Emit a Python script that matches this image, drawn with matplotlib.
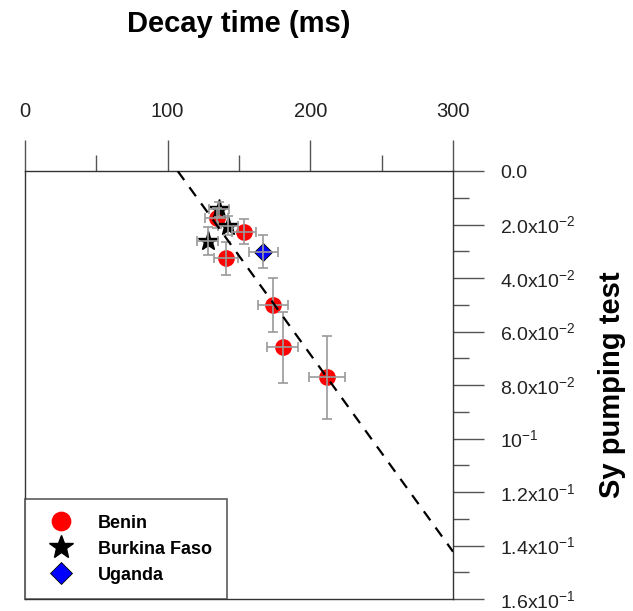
import matplotlib.pyplot as plt
from matplotlib.ticker import MultipleLocator, FixedLocator

plt.rcParams['font.family'] = ['Liberation Sans', 'DejaVu Sans']
plt.rcParams['mathtext.default'] = 'regular'

# Data (decay time in ms, Sy from pumping test)
benin_t = [134.3, 153.5, 140.7, 173.6, 180.6, 211.5]
benin_sy = [0.0177, 0.0227, 0.0326, 0.0501, 0.0659, 0.0771]
benin_terr = [7.8, 8.2, 8.4, 10.6, 11.0, 12.8]
benin_syerr = [0.0037, 0.0047, 0.0062, 0.0100, 0.0133, 0.0156]

burkina_t = [136.2, 142.5, 128.0]
burkina_sy = [0.0143, 0.0204, 0.0262]
burkina_terr = [7.0, 7.0, 7.4]
burkina_syerr = [0.0028, 0.0037, 0.0053]

uganda_t = [167.0]
uganda_sy = [0.0302]
uganda_terr = [10.0]
uganda_syerr = [0.0061]

fit_t = [107.0, 300.0]
fit_sy = [0.0, 0.1423]

y_ticks = [0.0, 0.02, 0.04, 0.06, 0.08, 0.10, 0.12, 0.14, 0.16]
y_labels = ['0.0', '2.0x10$^{-2}$', '4.0x10$^{-2}$', '6.0x10$^{-2}$',
            '8.0x10$^{-2}$', '10$^{-1}$', '1.2x10$^{-1}$', '1.4x10$^{-1}$',
            '1.6x10$^{-1}$']

fig = plt.figure(figsize=(6.33, 6.11), dpi=100)
ax = fig.add_axes([0.0395, 0.0196, 0.6762, 0.7005])

ax.plot(benin_t, benin_sy, 'o', color='red', markersize=11, zorder=2, label='Benin')
ax.plot(burkina_t, burkina_sy, '*', color='black', markersize=15, zorder=2, label='Burkina Faso')
ax.plot(uganda_t, uganda_sy, 'D', color='blue', markeredgecolor='black', markeredgewidth=0.6,
        markersize=9, zorder=2, label='Uganda')

for t, s, te, se in [(benin_t, benin_sy, benin_terr, benin_syerr),
                     (burkina_t, burkina_sy, burkina_terr, burkina_syerr),
                     (uganda_t, uganda_sy, uganda_terr, uganda_syerr)]:
    ax.errorbar(t, s, xerr=te, yerr=se, fmt='none', ecolor='#9a9a9a',
                elinewidth=1.2, capsize=3.6, capthick=1.2, zorder=3)

ax.plot(fit_t, fit_sy, color='black', linestyle=(0, (5, 4)), linewidth=1.6, zorder=4)

ax.set_xlim(0, 300)
ax.set_ylim(0.16, 0.0)

ax.xaxis.set_ticks_position('top')
ax.xaxis.set_label_position('top')
ax.xaxis.set_major_locator(MultipleLocator(100))
ax.xaxis.set_minor_locator(MultipleLocator(50))

ax.yaxis.set_ticks_position('right')
ax.yaxis.set_label_position('right')
ax.yaxis.set_major_locator(FixedLocator(y_ticks))
ax.set_yticklabels(y_labels)
ax.yaxis.set_minor_locator(MultipleLocator(0.01))

ax.tick_params(which='major', direction='out', length=22.3, width=1, color='#555555',
               labelsize=14.5, labelcolor='#222222')
ax.tick_params(which='minor', direction='out', length=11.5, width=1, color='#555555')
ax.tick_params(axis='x', which='major', pad=14)
ax.tick_params(axis='y', which='major', pad=11.5, labelsize=14)

for sp in ax.spines.values():
    sp.set_color('#333333')
    sp.set_linewidth(1)

ax.set_xlabel('Decay time (ms)', fontsize=21, fontweight='bold', labelpad=50)
ax.set_ylabel('Sy pumping test', fontsize=21, fontweight='bold', labelpad=16)

leg = ax.legend(loc='lower left', frameon=True, fancybox=False, borderaxespad=0,
                prop={'weight': 'bold', 'size': 13}, handletextpad=0.9,
                borderpad=0.85, labelspacing=0.5, handlelength=2.3, markerscale=1.2)
leg.get_frame().set_edgecolor('#333333')
leg.get_frame().set_linewidth(1.2)

plt.savefig('out.png', dpi=100)
